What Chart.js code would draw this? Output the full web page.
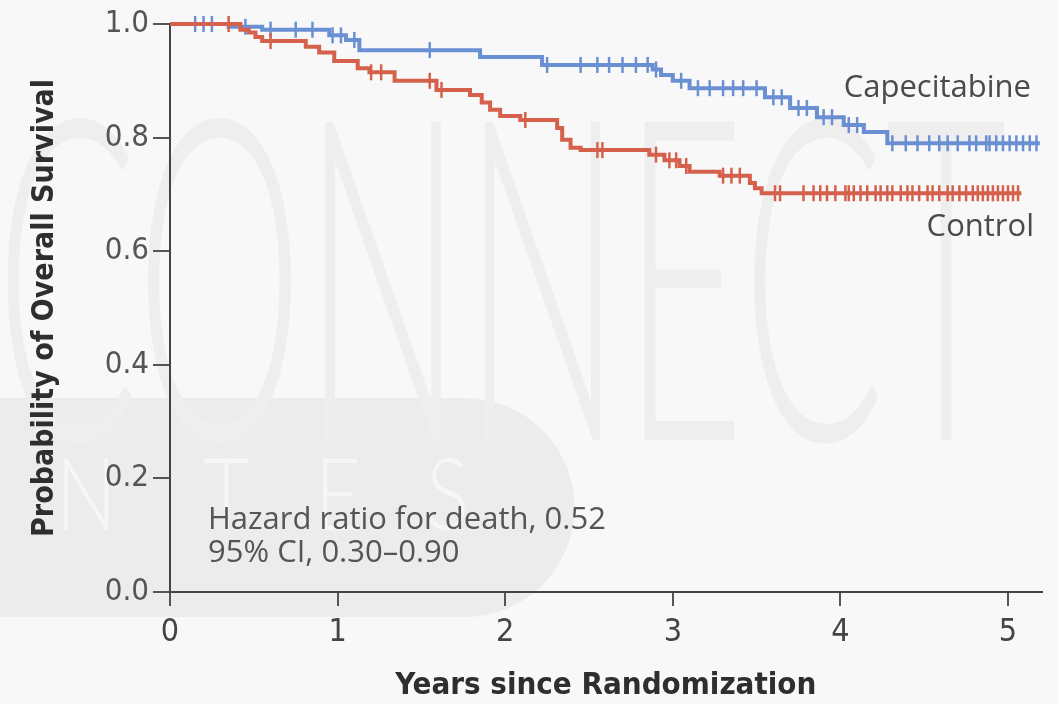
<!DOCTYPE html>
<html><head><meta charset="utf-8">
<script src="https://cdn.jsdelivr.net/npm/chart.js@4"></script>
<style>html,body{margin:0;padding:0;background:#f8f8f8}#wrap{width:1058px;height:704px}</style>
</head><body><div id="wrap"><canvas id="c" width="1058" height="704"></canvas></div>
<script>
// ---- data ----
const capeTimes = [0, 0.35, 0.55, 0.95, 1.05, 1.13, 1.85, 2.22, 2.88, 2.93, 3.0, 3.1, 3.55, 3.7, 3.86, 4.02, 4.14, 4.28, 5.19];
const capeSurv  = [1.0, 0.995, 0.99, 0.98, 0.972, 0.954, 0.942, 0.928, 0.92, 0.91, 0.90, 0.887, 0.871, 0.852, 0.836, 0.822, 0.81, 0.79, 0.79];
const ctrlTimes = [0, 0.42, 0.47, 0.51, 0.55, 0.81, 0.89, 0.98, 1.12, 1.19, 1.34, 1.59, 1.79, 1.86, 1.91, 1.97, 2.09, 2.31, 2.34, 2.39, 2.45, 2.86, 2.95, 3.04, 3.10, 3.28, 3.46, 3.49, 3.53, 5.08];
const ctrlSurv  = [1.0, 0.99, 0.985, 0.977, 0.97, 0.96, 0.95, 0.935, 0.922, 0.915, 0.90, 0.884, 0.875, 0.862, 0.849, 0.838, 0.831, 0.817, 0.796, 0.782, 0.778, 0.77, 0.76, 0.75, 0.74, 0.733, 0.72, 0.711, 0.702, 0.702];
const capeCensor = [0.15, 0.2, 0.25, 0.45, 0.6, 0.75, 0.85, 0.97, 1.02, 1.1, 1.55, 2.25, 2.45, 2.55, 2.62, 2.7, 2.78, 2.85, 2.9, 3.05, 3.15, 3.22, 3.3, 3.36, 3.42, 3.5, 3.6, 3.65, 3.75, 3.8, 3.9, 3.95, 4.05, 4.1, 4.31, 4.39, 4.46, 4.53, 4.59, 4.64, 4.70, 4.77, 4.81, 4.87, 4.89, 4.93, 4.97, 5.01, 5.05, 5.09, 5.13, 5.17];
const ctrlCensor = [0.35, 0.6, 1.2, 1.26, 1.55, 1.62, 2.12, 2.55, 2.58, 2.9, 2.98, 3.02, 3.08, 3.3, 3.35, 3.4, 3.61, 3.64, 3.78, 3.84, 3.88, 3.92, 3.97, 4.03, 4.05, 4.08, 4.12, 4.16, 4.21, 4.24, 4.28, 4.31, 4.36, 4.40, 4.43, 4.47, 4.52, 4.55, 4.59, 4.64, 4.67, 4.71, 4.75, 4.79, 4.82, 4.85, 4.88, 4.91, 4.94, 4.97, 5.0, 5.03, 5.06];
const xTicks = [0, 1, 2, 3, 4, 5];
const yTicks = [0, 0.2, 0.4, 0.6, 0.8, 1.0];
const yTickLabels = ['0.0', '0.2', '0.4', '0.6', '0.8', '1.0'];
const seriesNames = ['Control', 'Capecitabine'];
const hrLines = ['Hazard ratio for death, 0.52', '95% CI, 0.30\u20130.90'];
const xTitle = 'Years since Randomization';
const yTitle = 'Probability of Overall Survival';

const BLUE = '#6a8fd3', RED = '#d5604b';
const NARROW = "'Liberation Sans Narrow', 'DejaVu Sans Condensed', 'Roboto', sans-serif";
const TEXTF = "'Open Sans', 'Noto Sans', sans-serif";

function stepAt(times, surv, t) {
  let v = surv[0];
  for (let i = 0; i < times.length; i++) { if (times[i] <= t) v = surv[i]; }
  return v;
}
const pts = (ts, ss) => ts.map((t, i) => ({x: t, y: ss[i]}));
const cens = (cs, ts, ss) => cs.map(t => ({x: t, y: stepAt(ts, ss, t)}));

const bgPlugin = {
  id: 'bg',
  beforeDraw(chart) {
    const ctx = chart.ctx;
    ctx.save();
    ctx.fillStyle = '#f8f8f8';
    ctx.fillRect(0, 0, chart.width, chart.height);
    // watermark band
    ctx.fillStyle = '#ececec';
    ctx.beginPath();
    ctx.moveTo(0, 398); ctx.lineTo(465, 398);
    ctx.arc(465, 507.5, 109.5, -Math.PI / 2, Math.PI / 2);
    ctx.lineTo(0, 617); ctx.closePath(); ctx.fill();
    // watermark text
    ctx.fillStyle = '#eeeeee';
    ctx.font = "300 450px Lato, 'Open Sans', sans-serif";
    ctx.textBaseline = 'alphabetic';
    ctx.scale(0.47, 1);
    ctx.fillText('CONNECT', -10, 440);
    ctx.restore();
    ctx.save();
    ctx.fillStyle = '#f6f6f6';
    ctx.font = "300 100px Lato, 'Open Sans', sans-serif";
    ctx.scale(0.8, 1);
    ctx.fillText('N    T   E   S', 70, 530);
    ctx.restore();
  }
};

const labelPlugin = {
  id: 'labels',
  afterDraw(chart) {
    const ctx = chart.ctx;
    ctx.save();
    ctx.fillStyle = '#4a4a4a';
    ctx.font = '31px ' + TEXTF;
    ctx.textBaseline = 'middle';
    ctx.textAlign = 'right';
    ctx.fillText(seriesNames[1], 1031, 88);
    ctx.fillText(seriesNames[0], 1034, 227);
    ctx.textAlign = 'left';
    ctx.font = '31px ' + TEXTF;
    ctx.fillStyle = '#555';
    ctx.fillText(hrLines[0], 208, 520);
    ctx.fillText(hrLines[1], 208, 553);
    ctx.restore();
  }
};

new Chart(document.getElementById('c'), {
  type: 'line',
  data: {
    datasets: [
      {label: seriesNames[0], data: pts(ctrlTimes, ctrlSurv), stepped: 'before', borderColor: RED, borderWidth: 4, pointRadius: 0, fill: false, clip: false},
      {label: seriesNames[0] + ' censored', data: cens(ctrlCensor, ctrlTimes, ctrlSurv), showLine: false, pointStyle: 'line', rotation: 90, pointRadius: 8, borderColor: RED, borderWidth: 2.5, clip: false},
      {label: seriesNames[1], data: pts(capeTimes, capeSurv), stepped: 'before', borderColor: BLUE, borderWidth: 4, pointRadius: 0, fill: false, clip: false},
      {label: seriesNames[1] + ' censored', data: cens(capeCensor, capeTimes, capeSurv), showLine: false, pointStyle: 'line', rotation: 90, pointRadius: 8, borderColor: BLUE, borderWidth: 2.5, clip: false}
    ]
  },
  options: {
    responsive: false,
    animation: false,
    layout: {padding: {left: 0, top: 24, right: 16.5, bottom: 0}},
    plugins: {legend: {display: false}, tooltip: {enabled: false}},
    scales: {
      x: {
        type: 'linear', min: 0, max: 5.2,
        afterBuildTicks: s => { s.ticks = xTicks.map(v => ({value: v})); },
        afterFit: s => { s.height = 112; },
        grid: {drawOnChartArea: false, drawTicks: true, tickLength: 14, color: '#555', lineWidth: 2},
        border: {display: true, color: '#444', width: 2},
        ticks: {color: '#444', font: {family: NARROW, size: 32}, padding: 7, maxRotation: 0},
        title: {display: true, text: xTitle, color: '#2e2e2e', font: {family: NARROW, size: 31, weight: 'bold', lineHeight: 1}, padding: {top: 0, bottom: 3}}
      },
      y: {
        type: 'linear', min: 0, max: 1.0,
        afterBuildTicks: s => { s.ticks = yTicks.map(v => ({value: v})); },
        afterFit: s => { s.width = 170; },
        grid: {drawOnChartArea: false, drawTicks: true, tickLength: 17, color: '#555', lineWidth: 2},
        border: {display: true, color: '#444', width: 2},
        ticks: {color: '#555', font: {family: NARROW, size: 31}, padding: 4, callback: (v, i) => yTickLabels[i]},
        title: {display: true, text: yTitle, color: '#2e2e2e', font: {family: NARROW, size: 30, weight: 'bold', lineHeight: 1}, padding: {top: 30, bottom: 0}}
      }
    }
  },
  plugins: [bgPlugin, labelPlugin]
});
</script>
</body></html>
